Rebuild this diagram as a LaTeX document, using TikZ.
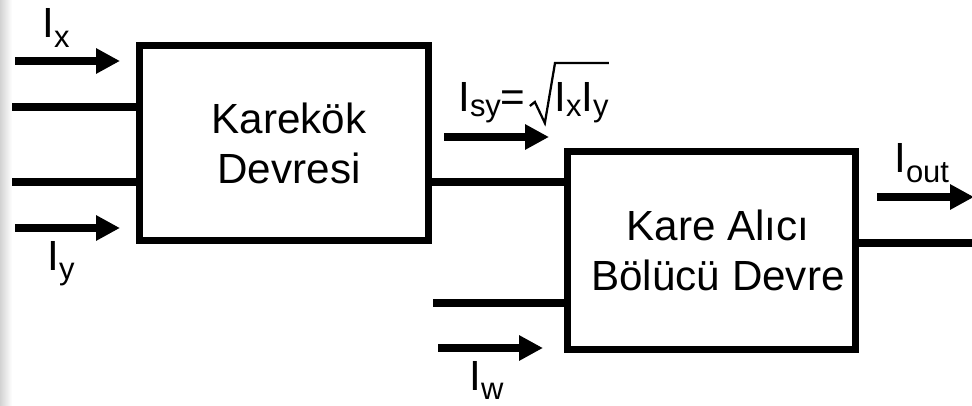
\documentclass[tikz,border=0pt]{standalone}
\usepackage{fontspec}
\setmainfont{Liberation Sans}
\usetikzlibrary{arrows.meta}

\newcommand\cur[2][7pt]{I\raisebox{-#1}{\fontsize{22pt}{22pt}\selectfont #2}}

\begin{document}
\begin{tikzpicture}[x=0.025cm, y=-0.025cm,
    hat/.style={line width=5pt},
    ok/.style={hat, -{Triangle[length=17pt,width=17pt]}},
    blok/.style={draw, line width=5pt, inner sep=0pt},
    kok/.style={line width=1.6pt, line join=miter},
    yazi/.style={font=\fontsize{30pt}{35.5pt}\selectfont, align=center},
    etiket/.style={anchor=base west, inner sep=0pt, font=\fontsize{30pt}{36pt}\selectfont}]

    \useasboundingbox (0,0) rectangle (972,406);

    % LEFT EDGE SHADOW
    \shade[left color=gray!35, right color=white] (0,0) rectangle (12,406);

    % 1. KAREKOK BLOCK
    \node[blok, minimum width=7.2cm, minimum height=4.85cm] (kk) at (284,143) {};
    \node[yazi] (kkyazi) at (289,143) {Karekök\\Devresi};

    % 2. KARE ALICI BOLUCU BLOCK
    \node[blok, minimum width=7.175cm, minimum height=4.925cm] (kb) at (711.5,250.5) {};
    \node[yazi] (kbyazi) at (718,250.5) {Kare Alıcı\\Bölücü Devre};

    % INPUTS OF BLOCK 1
    \coordinate (ixa) at (15,61);
    \coordinate (ixb) at (120,61);
    \draw[ok] (ixa) -- (ixb);
    \coordinate (g1) at (12,107);
    \draw[hat] (g1) -- (g1 -| kk.west);
    \coordinate (g2) at (12,182);
    \draw[hat] (g2) -- (g2 -| kk.west);
    \coordinate (iya) at (15,228);
    \coordinate (iyb) at (120,228);
    \draw[ok] (iya) -- (iyb);
    \node[etiket] (ix) at (42,38) {\cur{x}};
    \node[etiket] (iy) at (47,270) {\cur{y}};

    % LINE BETWEEN THE BLOCKS
    \coordinate (ara) at (0,182);
    \draw[hat] (ara -| kk.east) -- (ara -| kb.west);
    \coordinate (isya) at (444,137);
    \coordinate (isyb) at (549,137);
    \draw[ok] (isya) -- (isyb);

    % ISY LABEL WITH ITS ROOT SIGN
    \node[etiket] (isy) at (458,112) {\cur[3.5pt]{sy}=};
    \node[etiket] (ixy) at (554,112) {\cur[3.5pt]{x}\cur[3.5pt]{y}};
    \coordinate (kokust) at (555,63);
    \draw[kok] (isy.base east) ++(4,-6) -- ++(5,-4) -- ++(10,21) -- (kokust) -- (kokust -| ixy.east);

    % OTHER INPUT OF BLOCK 2
    \coordinate (g3) at (433,303);
    \draw[hat] (g3) -- (g3 -| kb.west);
    \coordinate (iwa) at (438,348);
    \coordinate (iwb) at (543,348);
    \draw[ok] (iwa) -- (iwb);
    \node[etiket] (iw) at (469,390) {\cur{w}};

    % OUTPUT
    \coordinate (cik) at (972,243);
    \draw[hat] (cik -| kb.east) -- (cik);
    \coordinate (ioa) at (877,197);
    \coordinate (iob) at (974,197);
    \draw[ok] (ioa) -- (iob);
    \node[etiket] (iout) at (894,173) {\cur{out}};

\end{tikzpicture}
\end{document}
